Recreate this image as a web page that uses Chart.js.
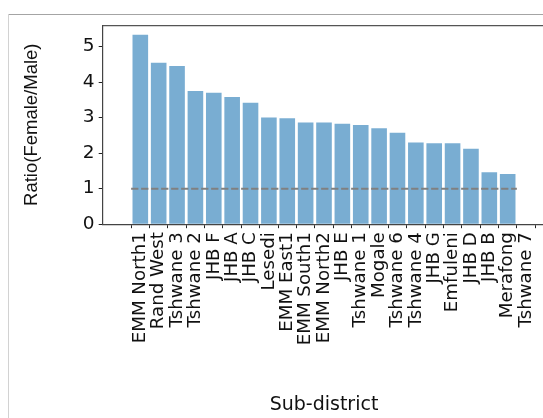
<!DOCTYPE html>
<html>
<head>
<meta charset="utf-8">
<script src="https://cdn.jsdelivr.net/npm/chart.js@4.4.1/dist/chart.umd.min.js"></script>
<style>
    html, body {
        margin: 0;
        padding: 0;
        background: #ffffff;
        width: 543px;
        height: 418px;
        overflow: hidden;
    }
    .frame-top {
        position: absolute;
        left: 8px;
        top: 14px;
        width: 540px;
        height: 1px;
        background: #a4a4a4;
    }
    .frame-left {
        position: absolute;
        left: 8px;
        top: 14px;
        width: 1px;
        height: 410px;
        background: #d2d2d2;
    }
    #canvas {
        position: absolute;
        left: 0;
        top: 0;
    }
</style>
</head>
<body>
<div class="frame-top"></div>
<div class="frame-left"></div>
<canvas id="canvas" width="560" height="418"></canvas>
<script>
const categories = [
    'EMM North1', 'Rand West', 'Tshwane 3', 'Tshwane 2', 'JHB F', 'JHB A', 'JHB C',
    'Lesedi', 'EMM East1', 'EMM South1', 'EMM North2', 'JHB E', 'Tshwane 1', 'Mogale',
    'Tshwane 6', 'Tshwane 4', 'JHB G', 'Emfuleni', 'JHB D', 'JHB B', 'Merafong', 'Tshwane 7'
];
const ratios = [
    5.33, 4.54, 4.45, 3.75, 3.70, 3.58, 3.42,
    3.00, 2.98, 2.86, 2.86, 2.83, 2.79, 2.70,
    2.57, 2.30, 2.28, 2.28, 2.12, 1.46, 1.41, null
];
const yTicks = [0, 1, 2, 3, 4, 5];
// reference line at ratio 1
const refLineX = [-0.5, 20.5];
const refLineY = [1, 1];

Chart.defaults.font.family = 'DejaVu Sans';
Chart.defaults.color = '#111111';

const ctx = document.getElementById('canvas').getContext('2d');

new Chart(ctx, {
    data: {
        datasets: [{
            type: 'line',
            order: 0,
            data: refLineX.map((x, i) => ({ x: x, y: refLineY[i] })),
            borderColor: 'rgb(128, 128, 128)',
            borderWidth: 2,
            borderDash: [7.3, 2.7],
            pointRadius: 0,
            fill: false,
        }, {
            type: 'bar',
            order: 1,
            data: categories.map((c, i) => ({ x: i, y: ratios[i] })),
            backgroundColor: 'rgba(31, 119, 180, 0.6)',
            borderWidth: 0,
            barPercentage: 0.85,
            categoryPercentage: 1,
        }]
    },
    options: {
        responsive: false,
        animation: false,
        devicePixelRatio: 1,
        layout: { padding: { left: 0, top: 25.2, right: 14.7, bottom: 0 } },
        plugins: { legend: { display: false }, tooltip: { enabled: false } },
        scales: {
            x: {
                type: 'linear',
                position: 'bottom',
                min: -1.5,
                max: 21.5,
                afterBuildTicks: scale => {
                    scale.ticks = categories.map((c, i) => ({ value: i }));
                },
                afterFit: scale => { scale.height = 418 - 224.2; },
                ticks: {
                    autoSkip: false,
                    minRotation: 90,
                    maxRotation: 90,
                    padding: 4,
                    font: { size: 18.2 },
                    callback: value => categories[value],
                },
                grid: { display: true, drawOnChartArea: false, drawTicks: true, tickLength: 4, tickColor: '#222222' },
                border: { display: true, color: '#444444', width: 1.2 },
                title: {
                    display: true,
                    text: 'Sub-district',
                    font: { size: 19 },
                    padding: { top: 0, bottom: 1.6 },
                },
            },
            x2: {
                type: 'linear',
                position: 'top',
                min: 0,
                max: 1,
                afterFit: scale => { scale.height = 0; },
                ticks: { display: false },
                grid: { display: false, drawTicks: false },
                border: { display: true, color: '#555555', width: 1.2 },
            },
            y: {
                min: 0,
                max: 5.6,
                afterBuildTicks: scale => {
                    scale.ticks = yTicks.map(v => ({ value: v }));
                },
                afterFit: scale => { scale.width = 102.7; },
                ticks: { padding: 4.2, font: { size: 18.5 } },
                grid: { display: true, drawOnChartArea: false, drawTicks: true, tickLength: 4, tickColor: '#222222' },
                border: { display: true, color: '#444444', width: 1.2 },
                title: {
                    display: true,
                    text: 'Ratio(Female/Male)',
                    font: { family: 'Liberation Sans', size: 18.5 },
                    padding: { top: 20.9, bottom: 0 },
                },
            },
        }
    },
});
</script>
</body>
</html>
